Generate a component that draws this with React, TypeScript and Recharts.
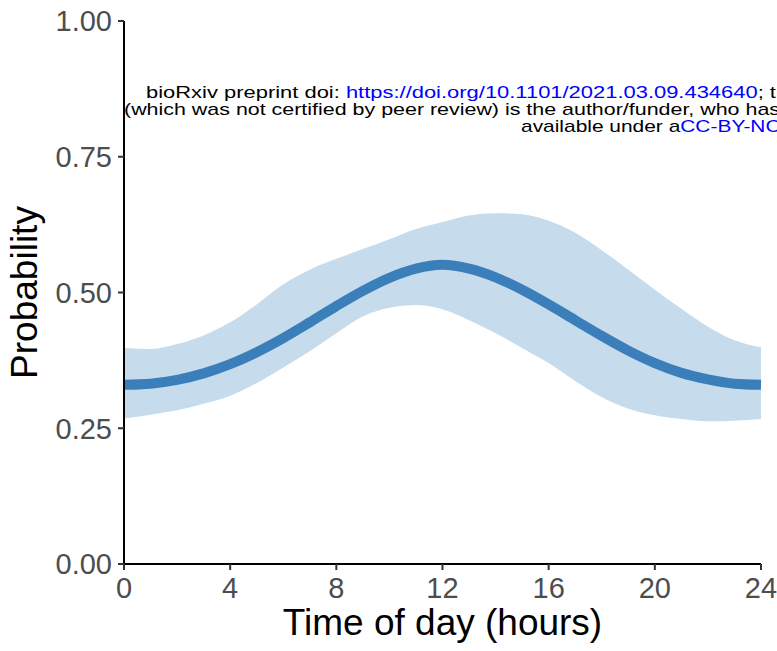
import { ComposedChart, Area, Line, XAxis, YAxis, Label } from 'recharts';

// hour of day, fitted probability, and the 95% band around it
const hours = [0, 1, 2, 3, 4, 5, 6, 7, 8, 9, 10, 11, 12, 13, 14, 15, 16, 17, 18, 19, 20, 21, 22, 23, 24];
const meanProb = [0.330, 0.332, 0.339, 0.351, 0.368, 0.390, 0.416, 0.445, 0.475, 0.503, 0.527, 0.544, 0.551, 0.544, 0.528, 0.505, 0.478, 0.449, 0.420, 0.393, 0.370, 0.352, 0.340, 0.332, 0.330];
const lowerProb = [0.268, 0.275, 0.283, 0.295, 0.310, 0.333, 0.362, 0.392, 0.425, 0.456, 0.472, 0.477, 0.469, 0.449, 0.425, 0.398, 0.370, 0.337, 0.307, 0.286, 0.274, 0.267, 0.263, 0.264, 0.267];
const upperProb = [0.398, 0.396, 0.405, 0.421, 0.445, 0.478, 0.515, 0.542, 0.562, 0.580, 0.598, 0.617, 0.630, 0.642, 0.646, 0.644, 0.632, 0.610, 0.578, 0.542, 0.505, 0.470, 0.437, 0.412, 0.399];

const xTicks = [0, 4, 8, 12, 16, 20, 24];
const yTicks = [0, 0.25, 0.5, 0.75, 1];

const data = hours.map((h, i) => ({
  hour: h,
  mean: meanProb[i],
  band: [lowerProb[i], upperProb[i]],
}));

const font = '"Liberation Sans", Arial, Helvetica, sans-serif';
const tickStyle = { fontSize: 29, fill: '#4d4d4d', fontFamily: font };

export default function App() {
  return (
    <div style={{ position: 'absolute', left: 0, top: 0, width: 777, height: 651, overflow: 'hidden', background: '#fff', fontFamily: font }}>
      <ComposedChart width={777} height={651} data={data} margin={{ top: 21, right: 16, left: 0, bottom: 0 }}>
        <XAxis
          dataKey="hour"
          type="number"
          domain={[0, 24]}
          ticks={xTicks}
          height={87}
          tick={tickStyle}
          tickSize={6}
          tickMargin={7}
          axisLine={{ stroke: '#000', strokeWidth: 2 }}
          tickLine={{ stroke: '#333', strokeWidth: 2 }}
        >
          <Label value="Time of day (hours)" position="insideBottom" offset={16} style={{ fontSize: 37, fill: '#000', fontFamily: font }} />
        </XAxis>
        <YAxis
          type="number"
          domain={[0, 1]}
          ticks={yTicks}
          width={124}
          tick={tickStyle}
          tickFormatter={(v: number) => v.toFixed(2)}
          tickSize={6}
          tickMargin={6}
          axisLine={{ stroke: '#000', strokeWidth: 2 }}
          tickLine={{ stroke: '#333', strokeWidth: 2 }}
        >
          <Label value="Probability" angle={-90} position="insideLeft" offset={24} style={{ fontSize: 37, fill: '#000', fontFamily: font, textAnchor: 'middle' }} />
        </YAxis>
        <Area dataKey="band" type="monotone" stroke="none" fill="#c6dbeb" fillOpacity={1} isAnimationActive={false} />
        <Line dataKey="mean" type="monotone" stroke="#3a7fba" strokeWidth={10} dot={false} activeDot={false} isAnimationActive={false} />
      </ComposedChart>
      <div style={{ position: 'absolute', left: 0, top: 0, width: 777, height: 651, fontSize: 17, color: '#000', whiteSpace: 'nowrap', lineHeight: '17px' }}>
        <div style={{ position: 'absolute', left: 146, top: 84, transform: 'scaleX(1.29)', transformOrigin: 'left' }}>
          bioRxiv preprint doi: <span style={{ color: '#0000ff' }}>https://doi.org/10.1101/2021.03.09.434640</span>; this version
        </div>
        <div style={{ position: 'absolute', left: 124, top: 101, transform: 'scaleX(1.26)', transformOrigin: 'left' }}>
          (which was not certified by peer review) is the author/funder, who has granted
        </div>
        <div style={{ position: 'absolute', left: 521, top: 118, transform: 'scaleX(1.23)', transformOrigin: 'left' }}>
          available under a<span style={{ color: '#0000ff' }}>CC-BY-NC-ND</span>
        </div>
      </div>
    </div>
  );
}
